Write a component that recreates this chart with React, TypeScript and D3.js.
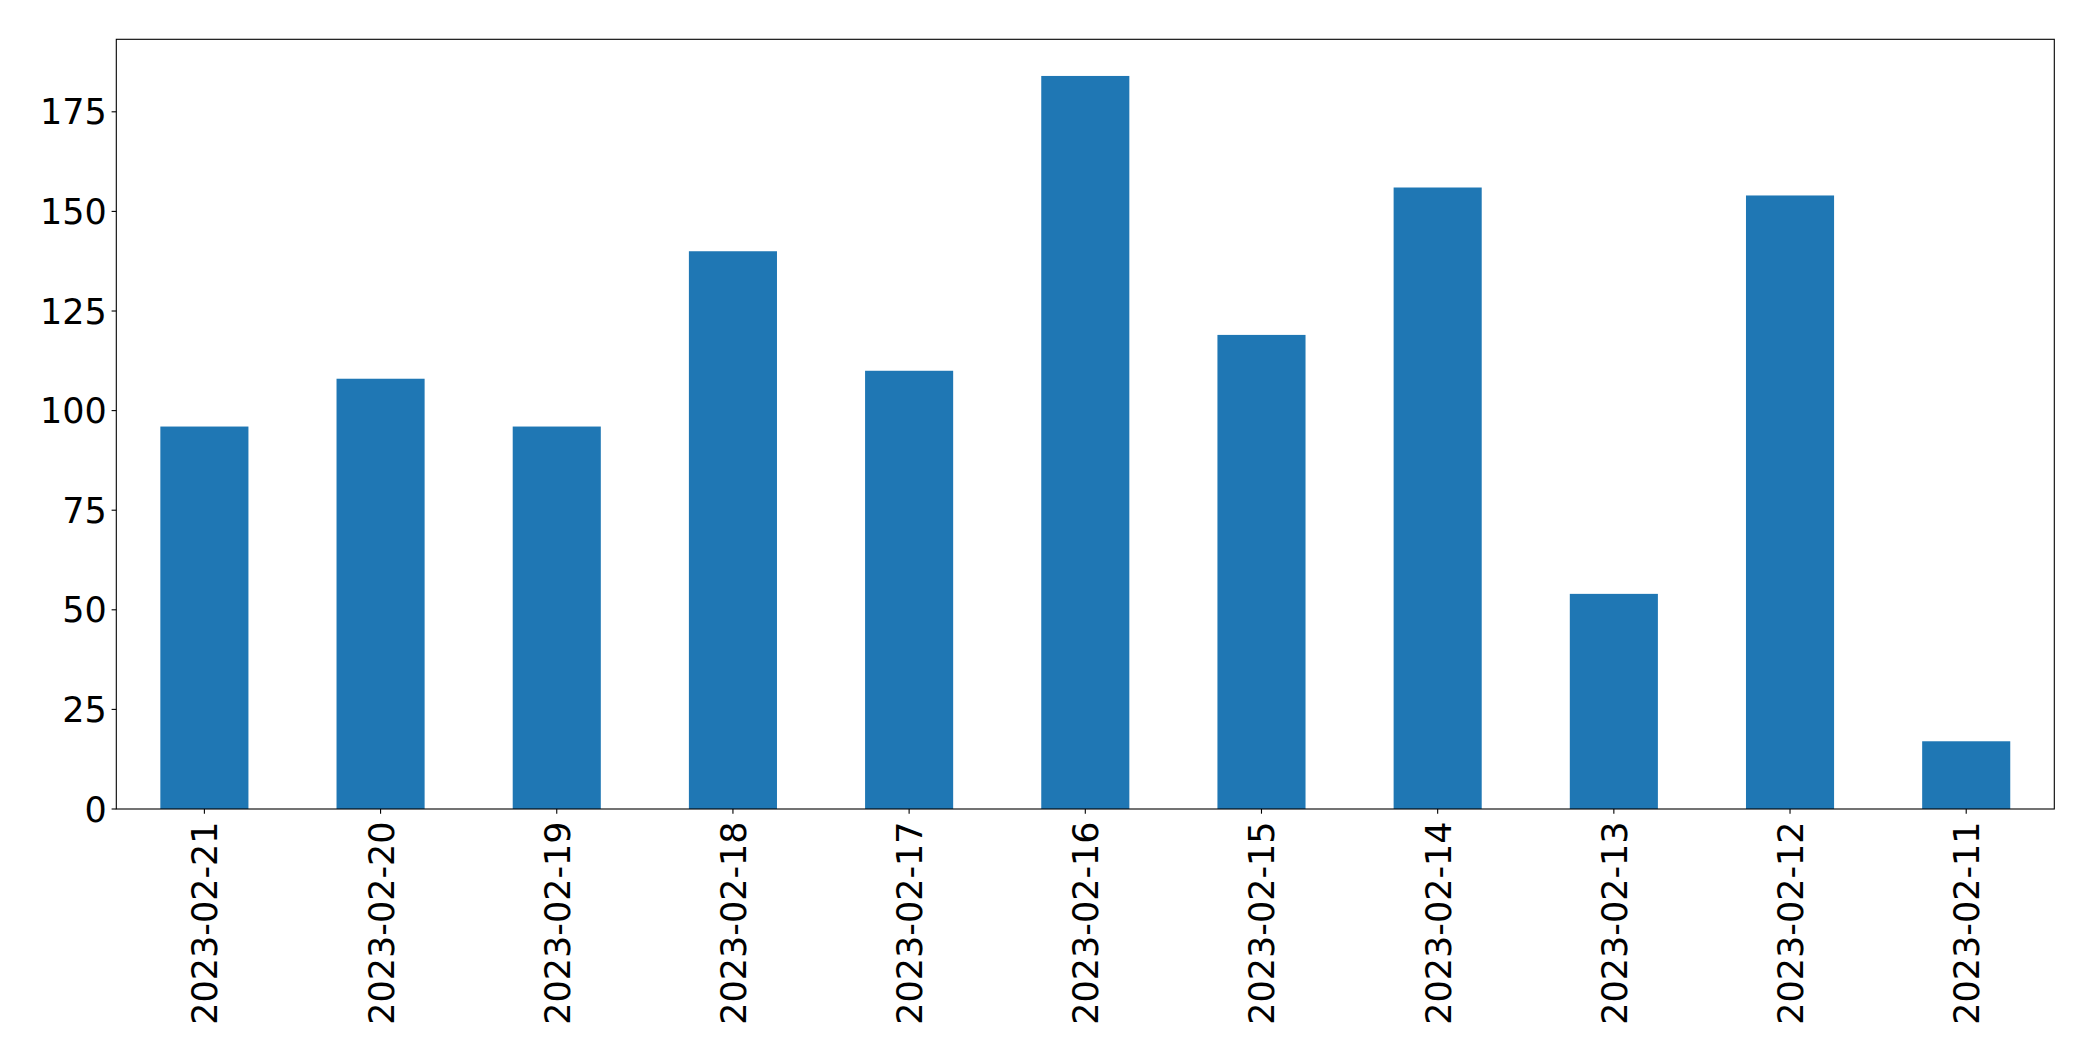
import React from "react";
import * as d3 from "d3";

const categories = [
  "2023-02-21", "2023-02-20", "2023-02-19", "2023-02-18", "2023-02-17", "2023-02-16",
  "2023-02-15", "2023-02-14", "2023-02-13", "2023-02-12", "2023-02-11",
];
const values = [96, 108, 96, 140, 110, 184, 119, 156, 54, 154, 17];
const yTicks = [0, 25, 50, 75, 100, 125, 150, 175];

const W = 2093;
const H = 1061;
const M = { left: 116.3, right: 2054.3, top: 39.3, bottom: 809 };
const FONT = "DejaVu Sans, sans-serif";
const FS = 35;

export default function App() {
  const x = d3
    .scaleLinear()
    .domain([-0.5, categories.length - 0.5])
    .range([M.left, M.right]);
  const yMax = d3.max(values)! * 1.05;
  const y = d3.scaleLinear().domain([0, yMax]).range([M.bottom, M.top]);
  const step = x(1) - x(0);
  const bw = step * 0.5;
  const tickLen = 4.7;
  const pad = 4.7;

  return (
    <svg
      width={W}
      height={H}
      style={{ position: "fixed", left: 0, top: 0, background: "#fff" }}
      fontFamily={FONT}
    >
      <rect x={0} y={0} width={W} height={H} fill="#fff" />
      {values.map((v, i) => (
        <rect
          key={i}
          x={x(i) - bw / 2}
          y={y(v)}
          width={bw}
          height={y(0) - y(v)}
          fill="#1f77b4"
        />
      ))}
      <rect
        x={M.left}
        y={M.top}
        width={M.right - M.left}
        height={M.bottom - M.top}
        fill="none"
        stroke="#000"
        strokeWidth={1.1}
      />
      {yTicks.map((t) => (
        <g key={t} transform={`translate(0,${y(t)})`}>
          <line x1={M.left - tickLen} x2={M.left} stroke="#000" strokeWidth={1.1} />
          <text
            x={M.left - tickLen - pad}
            y={0}
            dy="0.36em"
            textAnchor="end"
            fontSize={FS}
            fill="#000"
          >
            {t}
          </text>
        </g>
      ))}
      {categories.map((c, i) => (
        <g key={c}>
          <line
            x1={x(i)}
            x2={x(i)}
            y1={M.bottom}
            y2={M.bottom + tickLen}
            stroke="#000"
            strokeWidth={1.1}
          />
          <text
            transform={`translate(${x(i) + 13},${M.bottom + tickLen + pad + 3}) rotate(-90)`}
            textAnchor="end"
            fontSize={FS}
            fill="#000"
          >
            {c}
          </text>
        </g>
      ))}
    </svg>
  );
}
